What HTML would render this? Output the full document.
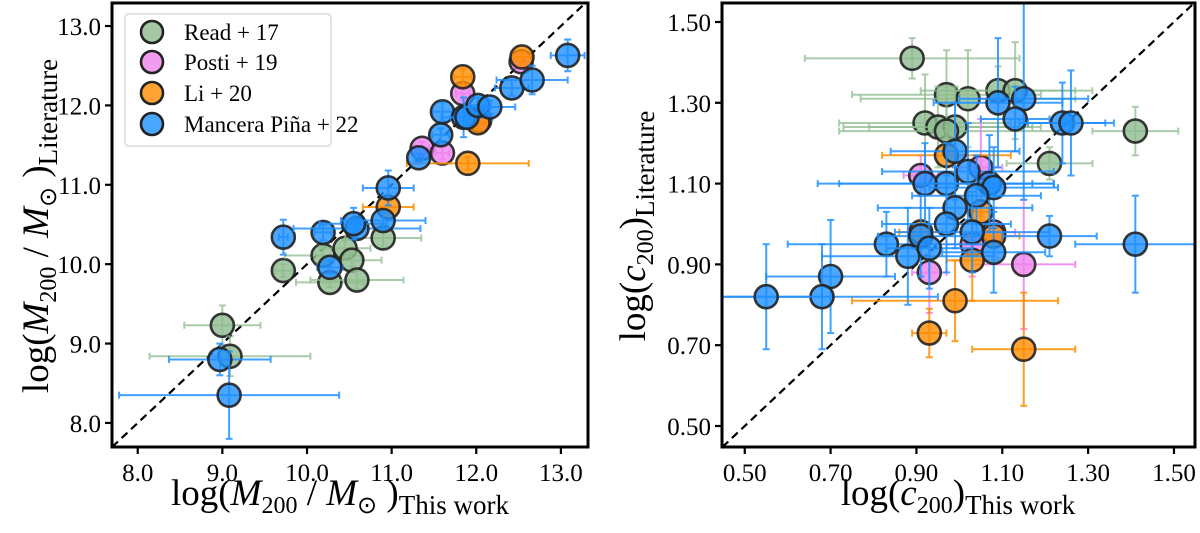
<!DOCTYPE html>
<html><head><meta charset="utf-8">
<style>
html,body{margin:0;padding:0;background:#fff;}
svg{display:block;font-family:"Liberation Serif","DejaVu Serif",serif;}
</style></head>
<body>
<svg id="fig" width="1200" height="533" viewBox="0 0 1200 533" xmlns="http://www.w3.org/2000/svg"></svg>
<script>
// ---------- LEFT PANEL DATA: log M200 ----------
const leftTicks = [8.0, 9.0, 10.0, 11.0, 12.0, 13.0];
const leftTickLabels = ["8.0","9.0","10.0","11.0","12.0","13.0"];
const mReadX  = [9.00, 9.09, 9.72, 10.19, 10.45, 10.53, 10.27, 10.59, 10.90];
const mReadY  = [9.23, 8.84, 9.92, 10.11, 10.20, 10.05, 9.77, 9.80, 10.33];
const mReadXe = [0.45, 0.95, 0.10, 0.45, 0.30, 0.35, 0.40, 0.55, 0.45];
const mReadYe = [0.25, 0.25, 0.08, 0.12, 0.10, 0.08, 0.06, 0.12, 0.12];
const mPostiX  = [11.84, 11.36, 11.60, 12.04, 12.53];
const mPostiY  = [12.15, 11.46, 11.40, 11.81, 12.55];
const mPostiXe = [0.08, 0.08, 0.08, 0.10, 0.06];
const mPostiYe = [0.08, 0.08, 0.08, 0.08, 0.06];
const mLiX  = [11.84, 10.96, 11.90, 12.54, 12.02];
const mLiY  = [12.36, 10.72, 11.27, 12.61, 11.78];
const mLiXe = [0.10, 0.30, 0.72, 0.10, 0.10];
const mLiYe = [0.10, 0.08, 0.08, 0.06, 0.08];
const mManX  = [8.97, 9.08, 9.72, 10.19, 10.27, 10.59, 10.55, 10.90, 10.96, 11.32, 11.58, 11.60, 11.85, 11.89, 12.02, 12.16, 12.42, 12.66, 13.08];
const mManY  = [8.80, 8.35, 10.34, 10.40, 9.96, 10.45, 10.51, 10.55, 10.96, 11.34, 11.63, 11.92, 11.85, 11.85, 12.00, 11.98, 12.22, 12.32, 12.63];
const mManXe = [0.60, 1.30, 0.05, 0.10, 0.15, 0.75, 0.40, 0.50, 0.30, 0.05, 0.10, 0.12, 0.15, 0.30, 0.15, 0.30, 0.20, 0.42, 0.20];
const mManYe = [0.20, 0.55, 0.22, 0.10, 0.08, 0.12, 0.20, 0.10, 0.22, 0.05, 0.08, 0.12, 0.25, 0.12, 0.10, 0.08, 0.10, 0.18, 0.20];

// ---------- RIGHT PANEL DATA: log c200 ----------
const rightTicks = [0.50, 0.70, 0.90, 1.10, 1.30, 1.50];
const rightTickLabels = ["0.50","0.70","0.90","1.10","1.30","1.50"];
const cReadX  = [0.89, 0.97, 1.02, 1.09, 1.13, 0.92, 0.95, 0.99, 0.97, 1.21, 1.41];
const cReadY  = [1.41, 1.32, 1.31, 1.33, 1.33, 1.25, 1.24, 1.24, 1.23, 1.15, 1.23];
const cReadXe = [0.25, 0.22, 0.25, 0.18, 0.18, 0.20, 0.22, 0.20, 0.25, 0.10, 0.10];
const cReadYe = [0.05, 0.11, 0.12, 0.06, 0.12, 0.12, 0.10, 0.10, 0.11, 0.04, 0.06];
const cPostiX  = [0.91, 1.05, 1.08, 1.03, 0.93, 1.15];
const cPostiY  = [1.12, 1.14, 0.98, 0.95, 0.88, 0.90];
const cPostiXe = [0.04, 0.05, 0.05, 0.06, 0.04, 0.12];
const cPostiYe = [0.05, 0.12, 0.06, 0.08, 0.10, 0.16];
const cLiX  = [0.97, 1.05, 0.91, 1.08, 1.03, 0.99, 0.93, 1.15];
const cLiY  = [1.17, 1.03, 0.98, 0.97, 0.91, 0.81, 0.73, 0.69];
const cLiXe = [0.15, 0.03, 0.05, 0.06, 0.06, 0.24, 0.04, 0.12];
const cLiYe = [0.03, 0.03, 0.03, 0.03, 0.10, 0.10, 0.06, 0.14];
const cManX  = [1.09, 1.15, 1.13, 1.24, 1.26, 0.99, 1.02, 0.97, 0.92, 1.07, 1.08, 1.04, 0.99, 0.97, 1.03, 1.21, 1.41, 0.83, 0.88, 0.91, 0.93, 1.08, 0.70, 0.68, 0.55];
const cManY  = [1.30, 1.31, 1.26, 1.25, 1.25, 1.18, 1.13, 1.10, 1.10, 1.10, 1.09, 1.07, 1.04, 1.00, 0.98, 0.97, 0.95, 0.95, 0.92, 0.97, 0.94, 0.93, 0.87, 0.82, 0.82];
const cManXe = [0.15, 0.15, 0.08, 0.10, 0.10, 0.15, 0.20, 0.25, 0.25, 0.15, 0.15, 0.15, 0.18, 0.15, 0.18, 0.11, 0.14, 0.23, 0.20, 0.10, 0.10, 0.12, 0.15, 0.27, 0.13];
const cManYe = [0.16, 0.25, 0.08, 0.10, 0.13, 0.12, 0.12, 0.10, 0.10, 0.12, 0.10, 0.10, 0.10, 0.12, 0.10, 0.05, 0.12, 0.08, 0.12, 0.10, 0.10, 0.10, 0.14, 0.13, 0.13];

const NS = "http://www.w3.org/2000/svg";
const svg = document.getElementById("fig");
function mk(tag, attrs, parent){
  const e = document.createElementNS(NS, tag);
  for (const k in attrs) e.setAttribute(k, attrs[k]);
  (parent||svg).appendChild(e);
  return e;
}
const COL = {read:"#8fbc8f", posti:"#ee82ee", li:"#ff8c00", man:"#1e90ff"};

function panel(opt){
  const g = mk("g", {});
  
  
  const sx = v => opt.left + (v - opt.xmin) / (opt.xmax - opt.xmin) * (opt.right - opt.left);
  const sy = v => opt.bottom - (v - opt.ymin) / (opt.ymax - opt.ymin) * (opt.bottom - opt.top);
  const clipId = opt.name + "-clip";
  const defs = mk("defs", {}, g);
  const cp = mk("clipPath", {id: clipId}, defs);
  mk("rect", {x:opt.left, y:opt.top, width:opt.right-opt.left, height:opt.bottom-opt.top}, cp);
  const plot = mk("g", {"clip-path":"url(#"+clipId+")"}, g);
  const lo = Math.max(opt.xmin, opt.ymin), hi = Math.min(opt.xmax, opt.ymax);
  const dl = mk("line", {x1:sx(lo), y1:sy(lo), x2:sx(hi), y2:sy(hi), stroke:"#000", "stroke-width":2.2, "stroke-dasharray":"8,5"}, plot);
  
  
  opt.series.forEach(s => {
    const sg = mk("g", {}, plot);
    
    
    for (let i = 0; i < s.x.length; i++) {
      const cx = sx(s.x[i]), cy = sy(s.y[i]);
      const x1 = sx(s.x[i]-s.xe[i]), x2 = sx(s.x[i]+s.xe[i]);
      const y1 = sy(s.y[i]-s.ye[i]), y2 = sy(s.y[i]+s.ye[i]);
      const eb = mk("g", {stroke:s.color, "stroke-width":2, opacity:s.eop}, sg);
      
      
      mk("line", {x1:x1, y1:cy, x2:x2, y2:cy}, eb);
      mk("line", {x1:cx, y1:y1, x2:cx, y2:y2}, eb);
      mk("line", {x1:x1, y1:cy-3.5, x2:x1, y2:cy+3.5}, eb);
      mk("line", {x1:x2, y1:cy-3.5, x2:x2, y2:cy+3.5}, eb);
      mk("line", {x1:cx-3.5, y1:y1, x2:cx+3.5, y2:y1}, eb);
      mk("line", {x1:cx-3.5, y1:y2, x2:cx+3.5, y2:y2}, eb);
      const c = mk("circle", {cx:cx, cy:cy, r:11.5, fill:s.color, "fill-opacity":0.8, stroke:"#222", "stroke-width":2.6, "stroke-opacity":0.9}, sg);
      
      
    }
  });
  const fr = mk("rect", {x:opt.left, y:opt.top, width:opt.right-opt.left, height:opt.bottom-opt.top, fill:"none", stroke:"#000", "stroke-width":3}, g);
  
  
  const xa = mk("g", {}, g);
  
  
  opt.xticks.forEach((t, i) => {
    const x = sx(t);
    mk("line", {x1:x, y1:opt.bottom, x2:x, y2:opt.bottom+7, stroke:"#000", "stroke-width":2.2}, xa);
    const tl = mk("text", {x:x, y:opt.bottom+34, "text-anchor":"middle", "font-size":25}, xa);
    tl.textContent = opt.xlabels[i];
    
    
  });
  const ya = mk("g", {}, g);
  
  
  opt.yticks.forEach((t, i) => {
    const y = sy(t);
    mk("line", {x1:opt.left-7, y1:y, x2:opt.left, y2:y, stroke:"#000", "stroke-width":2.2}, ya);
    const tl = mk("text", {x:opt.left-11, y:y+9, "text-anchor":"end", "font-size":25}, ya);
    tl.textContent = opt.ylabels[i];
    
    
  });
  return g;
}

panel({name:"mass-panel", left:112, right:588, top:3, bottom:447,
  xmin:7.696, xmax:13.32, ymin:7.697, ymax:13.29,
  xticks:leftTicks, xlabels:leftTickLabels, yticks:leftTicks, ylabels:leftTickLabels,
  series:[
    {name:"read17-series", x:mReadX, y:mReadY, xe:mReadXe, ye:mReadYe, color:COL.read, eop:0.75},
    {name:"posti19-series", x:mPostiX, y:mPostiY, xe:mPostiXe, ye:mPostiYe, color:COL.posti, eop:0.85},
    {name:"li20-series", x:mLiX, y:mLiY, xe:mLiXe, ye:mLiYe, color:COL.li, eop:0.85},
    {name:"mancera22-series", x:mManX, y:mManY, xe:mManXe, ye:mManYe, color:COL.man, eop:0.85}
  ]});
panel({name:"concentration-panel", left:722, right:1195, top:3, bottom:447,
  xmin:0.447, xmax:1.549, ymin:0.448, ymax:1.547,
  xticks:rightTicks, xlabels:rightTickLabels, yticks:rightTicks, ylabels:rightTickLabels,
  series:[
    {name:"read17-series", x:cReadX, y:cReadY, xe:cReadXe, ye:cReadYe, color:COL.read, eop:0.75},
    {name:"posti19-series", x:cPostiX, y:cPostiY, xe:cPostiXe, ye:cPostiYe, color:COL.posti, eop:0.85},
    {name:"li20-series", x:cLiX, y:cLiY, xe:cLiXe, ye:cLiYe, color:COL.li, eop:0.85},
    {name:"mancera22-series", x:cManX, y:cManY, xe:cManXe, ye:cManYe, color:COL.man, eop:0.85}
  ]});
</script>
<svg width="1200" height="533" style="position:absolute;left:0;top:0" xmlns="http://www.w3.org/2000/svg">
  <g>
    <rect x="125" y="14" width="206" height="132" rx="4" fill="#fff" fill-opacity="0.85" stroke="#d8d8d8" stroke-width="1.5"/>
    <g>
      <circle cx="152" cy="32" r="11" fill="#8fbc8f" fill-opacity="0.8" stroke="#222" stroke-width="2.6"/>
      <text x="184" y="40" font-size="23">Read + 17</text>
    </g>
    <g>
      <circle cx="152" cy="62" r="11" fill="#ee82ee" fill-opacity="0.8" stroke="#222" stroke-width="2.6"/>
      <text x="184" y="70" font-size="23">Posti + 19</text>
    </g>
    <g>
      <circle cx="152" cy="93" r="11" fill="#ff8c00" fill-opacity="0.8" stroke="#222" stroke-width="2.6"/>
      <text x="184" y="101" font-size="23">Li + 20</text>
    </g>
    <g>
      <circle cx="152" cy="124" r="11" fill="#1e90ff" fill-opacity="0.8" stroke="#222" stroke-width="2.6"/>
      <text x="184" y="132" font-size="23">Mancera Piña + 22</text>
    </g>
  </g>
  <text x="340" y="505" text-anchor="middle" font-size="37" font-family="Liberation Serif, serif">log(<tspan font-style="italic">M</tspan><tspan font-size="24" dy="8">200</tspan><tspan dy="-8"> / </tspan><tspan font-style="italic">M</tspan><tspan font-size="24" dy="8">⊙</tspan><tspan dy="-8"> )</tspan><tspan font-size="27" dy="9">This work</tspan></text>
  <text transform="translate(48,226) rotate(-90)" text-anchor="middle" font-size="37" font-family="Liberation Serif, serif">log(<tspan font-style="italic">M</tspan><tspan font-size="24" dy="8">200</tspan><tspan dy="-8"> / </tspan><tspan font-style="italic">M</tspan><tspan font-size="24" dy="8">⊙</tspan><tspan dy="-8"> )</tspan><tspan font-size="27" dy="9">Literature</tspan></text>
  <text x="958" y="505" text-anchor="middle" font-size="37" font-family="Liberation Serif, serif">log(<tspan font-style="italic">c</tspan><tspan font-size="24" dy="8">200</tspan><tspan dy="-8">)</tspan><tspan font-size="27" dy="9">This work</tspan></text>
  <text transform="translate(645,226) rotate(-90)" text-anchor="middle" font-size="37" font-family="Liberation Serif, serif">log(<tspan font-style="italic">c</tspan><tspan font-size="24" dy="8">200</tspan><tspan dy="-8">)</tspan><tspan font-size="27" dy="9">Literature</tspan></text>
</svg>
</body></html>
